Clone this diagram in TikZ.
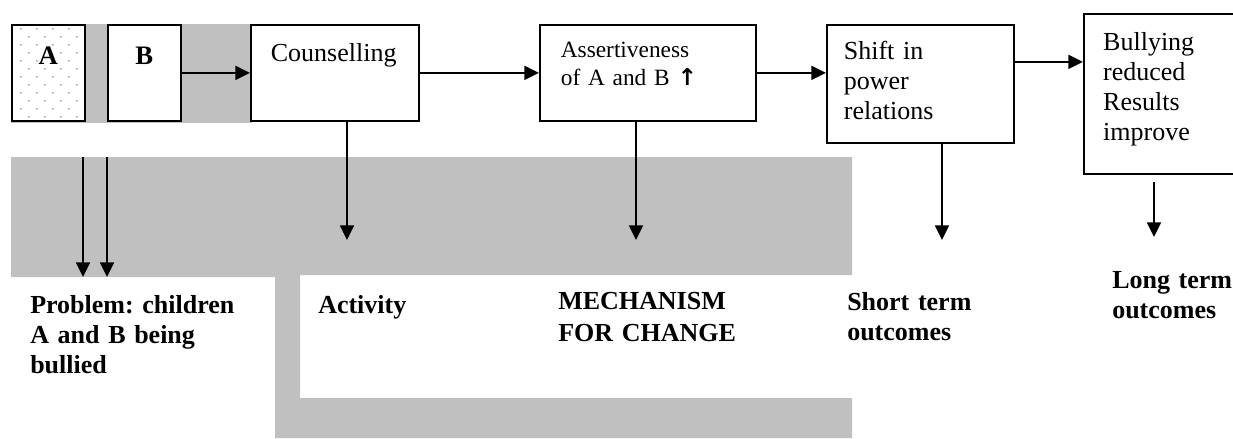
\documentclass[tikz,border=0pt]{standalone}
\usepackage{fontspec}
\setmainfont{Liberation Serif}
\newfontfamily\arrowfont{DejaVu Sans}
\usetikzlibrary{arrows.meta}
\definecolor{panelgray}{RGB}{192,192,192}
\frenchspacing

\begin{document}
\begin{tikzpicture}[x=0.75pt,y=-0.75pt,>={Triangle[length=11pt,width=10.5pt]},
  box/.style={draw,line width=1.3pt,fill=white,anchor=north west,text height=15pt},
  txt/.style={box,align=left,font=\fontsize{19.5}{22.5}\selectfont},
  letter/.style={box,font=\bfseries\fontsize{20}{22.5}\selectfont,inner xsep=0pt,inner ysep=15pt,
    minimum width=54.75pt,text depth=27pt},
  speckle/.style={path picture={
    \foreach \row in {0,...,11} \foreach \col in {0,...,3}
      \fill[gray] ([shift={({9+16*\col+8*mod(\row,2)},{4+8*\row})}]path picture bounding box.north west) circle (0.6pt);}},
  heading/.style={anchor=base west,align=left,text width=200pt,inner sep=0pt,
    font=\bfseries\fontsize{19.5}{22.5}\selectfont},
  link/.style={->,line width=1.3pt}]
  \useasboundingbox (0,0) rectangle (1233,439);
  \clip (0,0) rectangle (1233,439);

  % grey panels
  \fill[panelgray] (11,24) rectangle (252,123);
  \fill[panelgray] (11,157) -- (852,157) -- (852,275) -- (300,275) -- (300,398) -- (852,398)
    -- (852,438) -- (275,438) -- (275,277) -- (11,277) -- cycle;

  % chain of boxes
  \node[letter,speckle] (a) at (11,24) {A};
  \node[letter]         (b) at (107,24) {B};
  \node[txt,text width=96pt,inner xsep=15pt,inner ysep=12.75pt,text depth=31.5pt] (couns) at (250,24) {Counselling};
  \node[txt,font=\fontsize{17.5}{21}\selectfont,text width=130.5pt,inner xsep=15.75pt,inner ysep=9.75pt,
    text depth=37.5pt] (assertive) at (539,24) {Assertiveness\\of A and B {\arrowfont\bfseries ↑}};
  \node[txt,text width=114.75pt,inner xsep=12.75pt,inner ysep=11.25pt,text depth=51pt] (power) at (826,24)
    {Shift in\\power\\relations};
  \node[txt,text width=98.5pt,inner xsep=14.5pt,inner ysep=12.75pt,text depth=79.5pt] (result) at (1083,13)
    {Bullying\\reduced\\Results\\improve};

  % headings
  \node[heading] (problem)   at (30,313)   {Problem: children\\A and B being\\bullied};
  \node[heading] (activity)  at (318,313)  {Activity};
  \node[heading] (mechanism) at (558,309)  {MECHANISM\\[1.5pt]FOR CHANGE};
  \node[heading] (short)     at (847,310)  {Short term\\outcomes};
  \node[heading] (long)      at (1112,288) {Long term\\outcomes};

  \coordinate (gtop) at (0,157);
  \coordinate (tipa) at (83,277);
  \coordinate (tipb) at (107,277);
  \coordinate (tipc) at (347,240);
  \coordinate (tipm) at (636,240);
  \coordinate (tips) at (942,240);
  \coordinate (srcl) at (1154,182);
  \coordinate (tipl) at (1154,237);
  \coordinate (up)   at ([yshift=16.5pt]power.east);

  \path[link] (b) edge (couns)
        (couns) edge (assertive)
        (assertive) edge (assertive -| power.west)
        (up) edge (up -| result.west)
        (tipa |- gtop) edge (tipa)
        (tipb |- gtop) edge (tipb)
        (couns.south -| tipc) edge (tipc)
        (assertive.south -| tipm) edge (tipm)
        (power.south -| tips) edge (tips)
        (srcl) edge (tipl);
\end{tikzpicture}
\end{document}
